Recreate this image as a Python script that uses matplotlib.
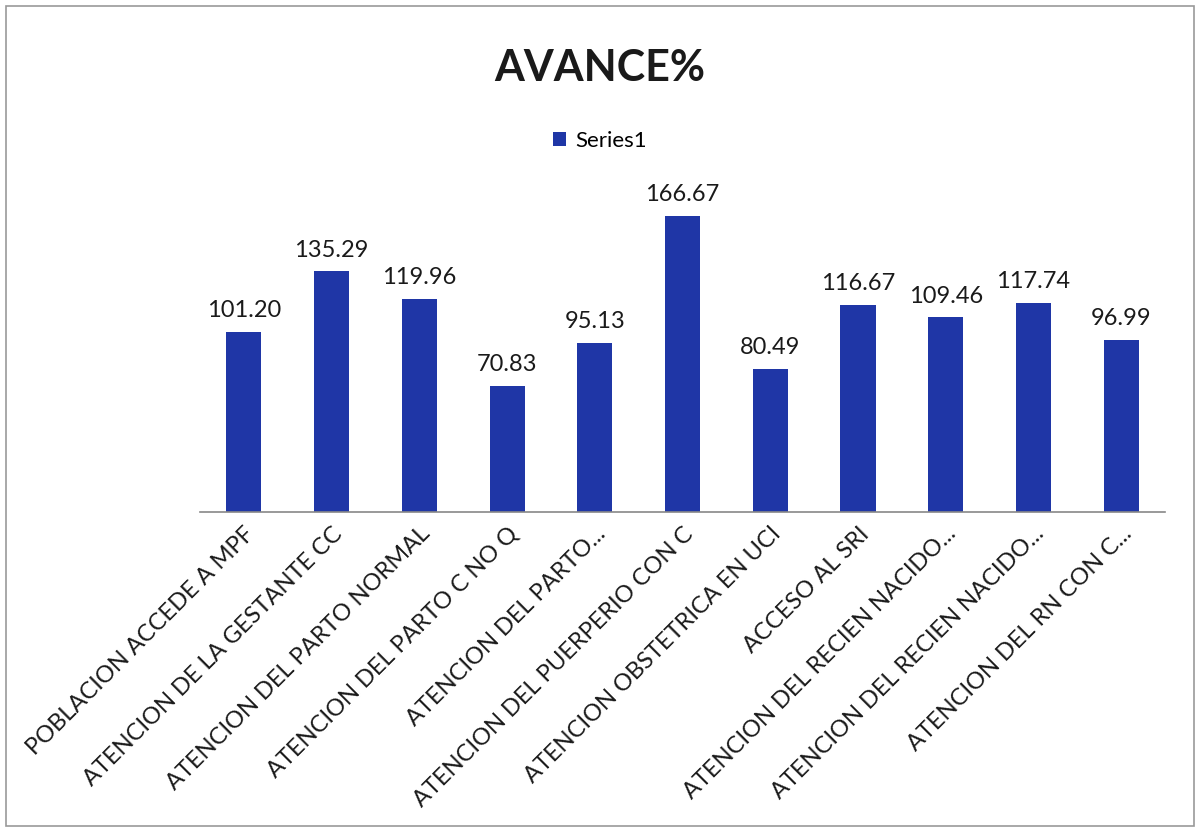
import matplotlib.pyplot as plt
from matplotlib.patches import Rectangle

plt.rcParams['font.family'] = ['Lato', 'DejaVu Sans']

# Datos del grafico
categorias = ["POBLACION ACCEDE A MPF", "ATENCION DE LA GESTANTE CC",
              "ATENCION DEL PARTO NORMAL", "ATENCION DEL PARTO C NO Q",
              "ATENCION DEL PARTO...", "ATENCION DEL PUERPERIO CON C",
              "ATENCION OBSTETRICA EN UCI", "ACCESO AL SRI",
              "ATENCION DEL RECIEN NACIDO...", "ATENCION DEL RECIEN NACIDO...",
              "ATENCION DEL RN CON C..."]
avance = [101.20, 135.29, 119.96, 70.83, 95.13, 166.67, 80.49, 116.67, 109.46, 117.74, 96.99]
serie = "Series1"
titulo = "AVANCE%"

color_barra = '#1f36a6'

fig = plt.figure(figsize=(12, 8.32), dpi=100)
ax = fig.add_axes([200 / 1200, 1 - 512 / 832, 965 / 1200, 320 / 832])

x = range(len(categorias))
bars = ax.bar(x, avance, width=0.4, color=color_barra, label=serie)
ax.set_xlim(-0.5, len(categorias) - 0.5)
ax.set_ylim(0, 180)

# Etiquetas de valor
for i, v in enumerate(avance):
    ax.text(i, v + 6, f"{v:.2f}", ha='center', va='bottom', fontsize=17, color='#1a1a1a')

ax.set_xticks(list(x))
ax.set_xticklabels(categorias, rotation=45, ha='right', rotation_mode='anchor',
                   fontsize=17, color='#1a1a1a')
ax.tick_params(axis='x', length=0, pad=8)
ax.set_yticks([])
for s in ['top', 'right', 'left']:
    ax.spines[s].set_visible(False)
ax.spines['bottom'].set_color('#888888')
ax.spines['bottom'].set_linewidth(1.2)

fig.text(0.5, 1 - 68 / 832, titulo, ha='center', va='center', fontsize=31,
         fontweight='bold', color='#1a1a1a')

leg = fig.legend(loc='center', bbox_to_anchor=(0.5, 1 - 141 / 832), frameon=False,
                 fontsize=16, handlelength=0.6, handleheight=0.6, handletextpad=0.4)

# Borde del area del grafico
fig.patches.append(Rectangle((6 / 1200, 6 / 832), 1188 / 1200, 820 / 832,
                             transform=fig.transFigure, fill=False,
                             edgecolor='#999999', linewidth=1.2))

fig.savefig('out.png', dpi=100)
